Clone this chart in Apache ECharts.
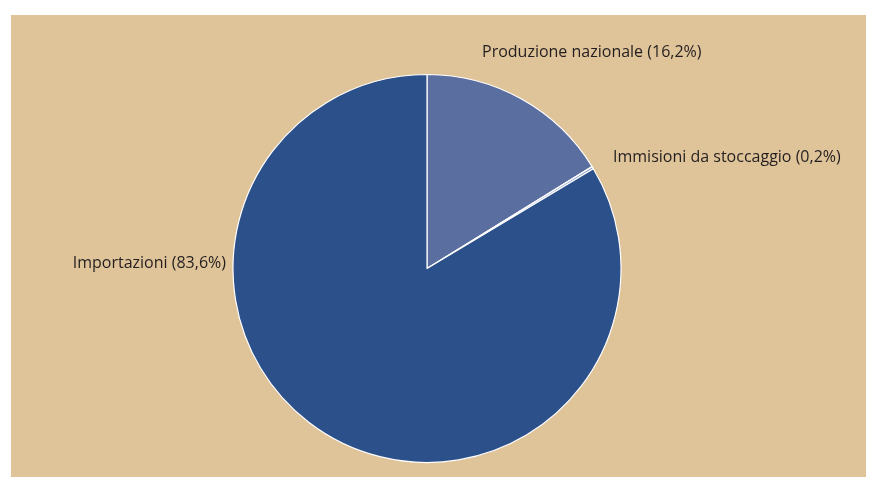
<!DOCTYPE html>
<html>
<head>
<meta charset="utf-8">
<script src="https://cdn.jsdelivr.net/npm/echarts@6/dist/echarts.min.js"></script>
<style>
  html, body { margin: 0; padding: 0; background: #fff; }
  #wrap { position: relative; width: 874px; height: 477px; }
  #chart { position: absolute; left: 11px; top: 15px; width: 855px; height: 462px; }
</style>
</head>
<body>
<div id="wrap"><div id="chart"></div></div>
<script>
// dati
const categories = ['Produzione nazionale', 'Immisioni da stoccaggio', 'Importazioni'];
const shares = [16.2, 0.2, 83.6];
const colors = ['#5a6fa0', '#8f9dc9', '#2c5089'];

// posizione delle etichette (x, y, allineamento)
const labelPos = [
  [471, 37, 'left'],
  [602, 142, 'left'],
  [215, 248, 'right']
];

const myChart = echarts.init(document.getElementById('chart'));
const option = {
  backgroundColor: '#dfc399',
  animation: false,
  series: [
    {
      type: 'pie',
      center: [416, 253.5],
      radius: 194,
      startAngle: 90,
      clockwise: true,
      itemStyle: {
        borderColor: '#ffffff',
        borderWidth: 1.2
      },
      label: {
        show: true,
        position: 'outside',
        overflow: 'none',
        fontFamily: '"Open Sans", sans-serif',
        fontSize: 16,
        color: '#231f20',
        formatter: function (p) {
          return p.name + ' (' + String(p.value).replace('.', ',') + '%)';
        }
      },
      labelLine: { show: false },
      labelLayout: function (p) {
        const lp = labelPos[p.dataIndex];
        return { x: lp[0], y: lp[1], align: lp[2], verticalAlign: 'middle' };
      },
      data: categories.map(function (c, i) {
        return { name: c, value: shares[i], itemStyle: { color: colors[i] } };
      })
    }
  ]
};
myChart.setOption(option);
</script>
</body>
</html>
